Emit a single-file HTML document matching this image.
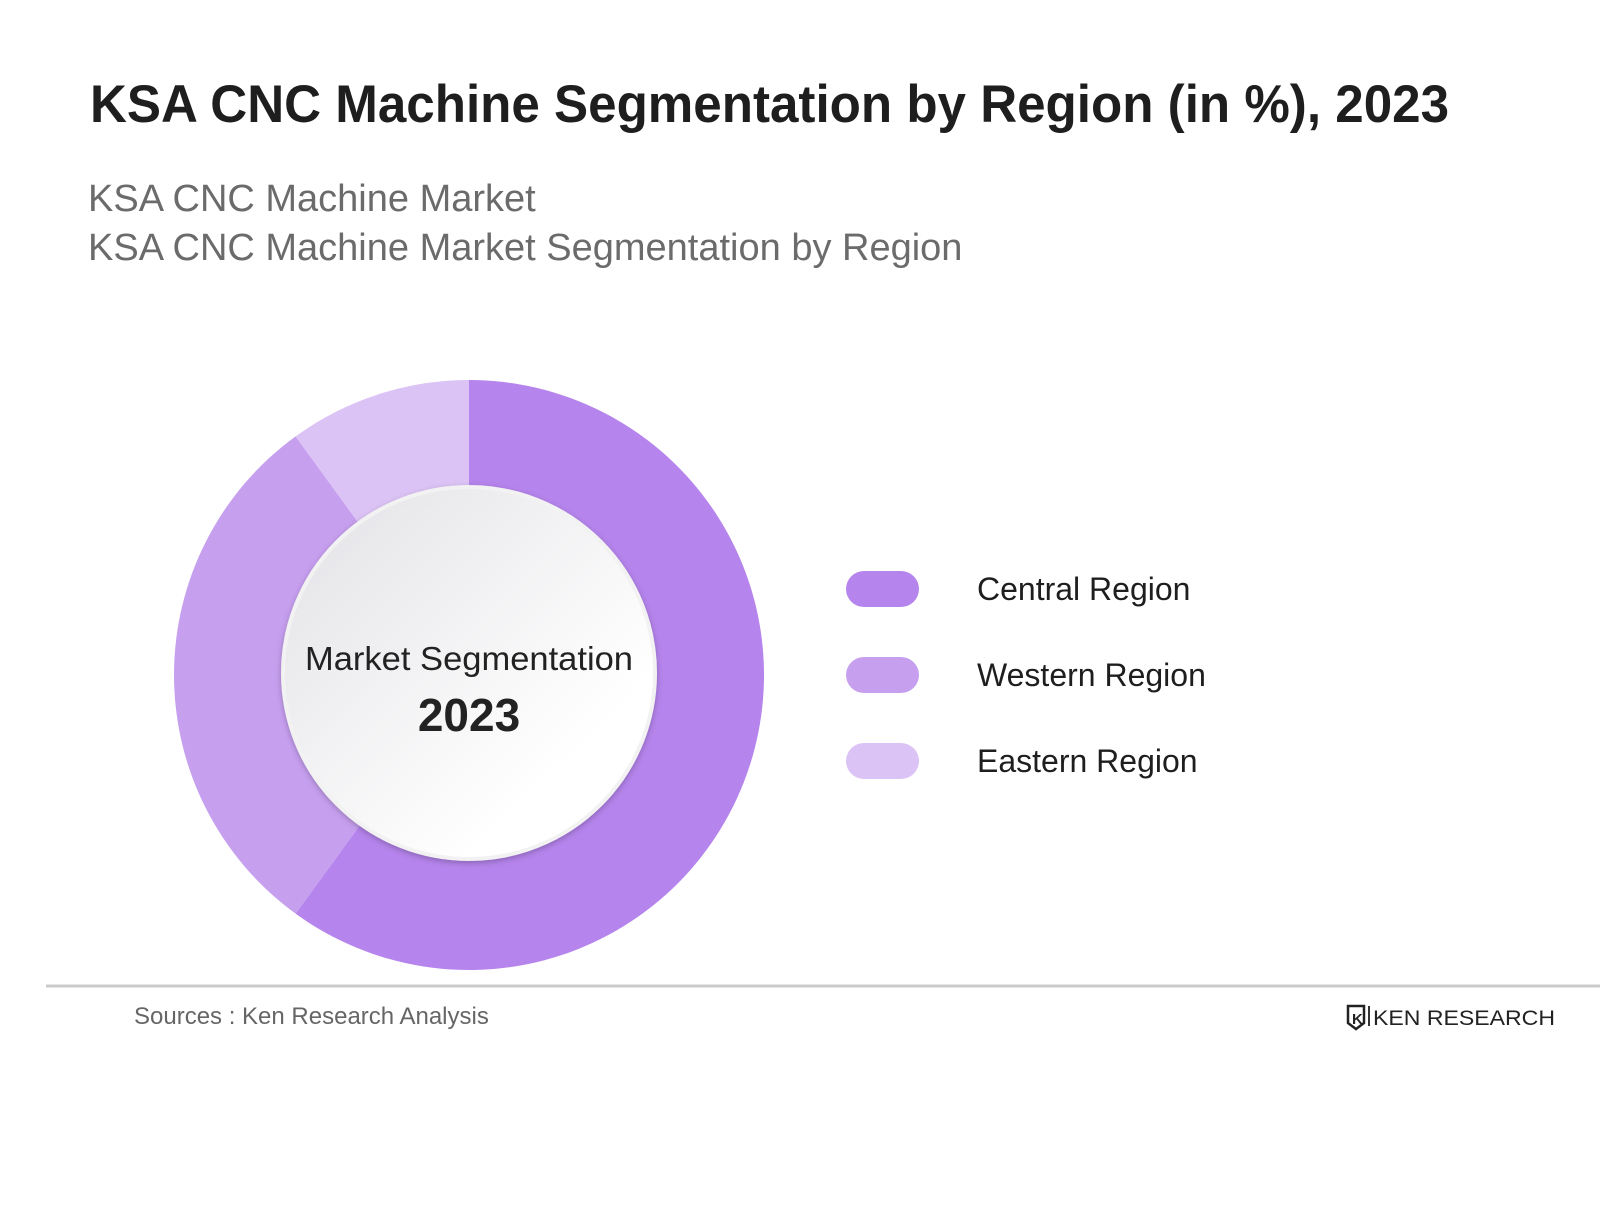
<!DOCTYPE html>
<html><head><meta charset="utf-8"><style>
body{margin:0;width:1600px;height:1200px;background:#fff;font-family:"Liberation Sans",sans-serif;overflow:hidden}
</style></head><body>
<svg width="1600" height="1200" viewBox="0 0 1600 1200">
<defs>
<linearGradient id="g" x1="0" y1="0" x2="1" y2="1"><stop offset="0" stop-color="#e2e2e6"/><stop offset="0.75" stop-color="#ffffff"/></linearGradient>
<filter id="sh" x="-20%" y="-20%" width="140%" height="140%"><feDropShadow dx="0" dy="2" stdDeviation="3" flood-color="#000" flood-opacity="0.25"/></filter>
</defs>
<text x="90" y="122" font-size="53" font-weight="bold" fill="#1e1e1e" textLength="1359" lengthAdjust="spacingAndGlyphs">KSA CNC Machine Segmentation by Region (in %), 2023</text>
<text x="88" y="211" font-size="38" fill="#6b6b6b">KSA CNC Machine Market</text>
<text x="88" y="260" font-size="38" fill="#6b6b6b">KSA CNC Machine Market Segmentation by Region</text>
<g id="pie"></g>
<circle cx="469" cy="673" r="186" fill="url(#g)" stroke="#f2f2f2" stroke-width="4" filter="url(#sh)"/>
<text x="469" y="670" font-size="33" text-anchor="middle" fill="#222" textLength="328" lengthAdjust="spacingAndGlyphs">Market Segmentation</text>
<text x="469" y="731" font-size="46" font-weight="bold" text-anchor="middle" fill="#222">2023</text>
<g id="legend"></g>
<line x1="46" y1="986" x2="1600" y2="986" stroke="#cbcbcb" stroke-width="3"/>
<text x="134" y="1024" font-size="24" fill="#666">Sources : Ken Research Analysis</text>
<g>
<path d="M1348 1006 h16 v17 l-8 6 l-8 -6 z" fill="none" stroke="#222" stroke-width="2.5"/>
<text x="1352" y="1024" font-size="15" font-weight="bold" fill="#222">K</text>
<rect x="1368" y="1006" width="2" height="20" fill="#333"/>
<text x="1373" y="1025" font-size="21" fill="#222" textLength="182" lengthAdjust="spacingAndGlyphs">KEN RESEARCH</text>
</g>
</svg>
<script>
const categories=["Central Region","Western Region","Eastern Region"];
const values=[60,30,10];
const colors=["#b584ec","#c69fef","#dcc3f6"];
const NS="http://www.w3.org/2000/svg";
const cx=469,cy=675,R=295;
const pie=document.getElementById('pie');
const total=values.reduce((a,b)=>a+b,0);
let a0=0;
values.forEach((v,i)=>{
  const a1=a0+v/total*2*Math.PI;
  const p=(a)=>[cx+R*Math.sin(a),cy-R*Math.cos(a)];
  const [x0,y0]=p(a0),[x1,y1]=p(a1);
  const path=document.createElementNS(NS,'path');
  path.setAttribute('d',`M${cx} ${cy} L${x0} ${y0} A${R} ${R} 0 ${a1-a0>Math.PI?1:0} 1 ${x1} ${y1} Z`);
  path.setAttribute('fill',colors[i]);
  
  
  pie.appendChild(path);
  a0=a1;
});
const lg=document.getElementById('legend');
categories.forEach((c,i)=>{
  const y=589+i*86;
  const r=document.createElementNS(NS,'rect');
  r.setAttribute('x',846);r.setAttribute('y',y-18);r.setAttribute('width',73);r.setAttribute('height',36);r.setAttribute('rx',18);
  r.setAttribute('fill',colors[i]);
  
  
  lg.appendChild(r);
  const t=document.createElementNS(NS,'text');
  t.setAttribute('x',977);t.setAttribute('y',y+11);t.setAttribute('font-size',32);t.setAttribute('fill','#1e1e1e');
  t.textContent=c;
  
  
  lg.appendChild(t);
});
</script>
</body></html>
